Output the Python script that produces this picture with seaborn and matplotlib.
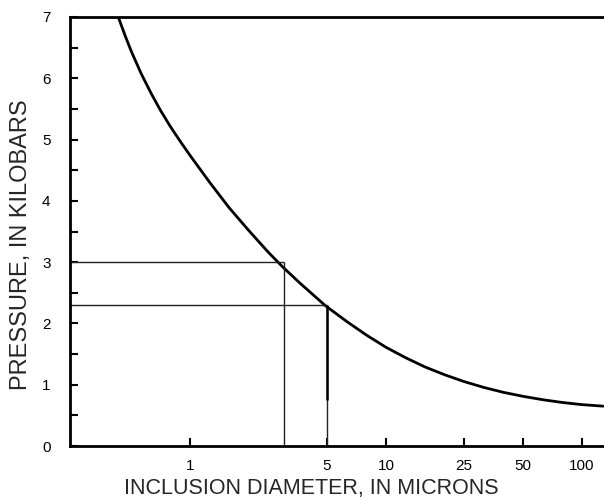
import matplotlib
matplotlib.use("Agg")
import matplotlib.pyplot as plt
import seaborn as sns
import pandas as pd
from matplotlib.ticker import FixedLocator, NullFormatter

# Curve
diameter = [0.43, 0.468, 0.501, 0.562, 0.631, 0.708, 0.794, 0.891, 1.0, 1.26,
            1.58, 2.0, 2.51, 2.95, 3.63, 4.9, 6.31, 7.94, 10.0, 12.6,
            15.8, 20.0, 25.1, 31.6, 39.8, 50.1, 63.1, 79.4, 100, 128]
pressure = [7.0, 6.68, 6.44, 6.08, 5.76, 5.47, 5.21, 4.97, 4.74, 4.30,
            3.89, 3.51, 3.16, 2.93, 2.66, 2.29, 2.03, 1.81, 1.61, 1.44,
            1.29, 1.16, 1.05, 0.955, 0.875, 0.81, 0.755, 0.71, 0.675, 0.65]

# Guide lines (reading examples)
guide_x = [3.0, 5.0]
guide_y = [3.0, 2.3]

x_ticks = [1, 5, 10, 25, 50, 100]
x_ticklabels = ["1", "5", "10", "25", "50", "100"]
y_ticks = [0, 1, 2, 3, 4, 5, 6, 7]
y_minor = [0.5, 1.5, 2.5, 3.5, 4.5, 5.5, 6.5]

sns.set_theme(style="ticks")
plt.rcParams['font.family'] = ['Liberation Sans', 'DejaVu Sans']

fig = plt.figure(figsize=(6.04, 5.0), dpi=100)
ax = fig.add_axes([0.116, 0.108, 0.884, 0.858])

df = pd.DataFrame({"d": diameter, "p": pressure})
sns.lineplot(data=df, x="d", y="p", ax=ax, color="black", linewidth=2.0)

ax.set_xscale("log")
ax.set_xlim(0.244, 129.5)
ax.set_ylim(0, 7)

# guide lines
for gx, gy in zip(guide_x, guide_y):
    ax.hlines(gy, 0.244, gx, color="#222222", linewidth=1.0)
    ax.vlines(gx, 0, gy, color="#222222", linewidth=1.0)
# the upper part of the 5-micron drop line is drawn heavier in the original
ax.vlines(guide_x[1], 0.75, guide_y[1], color="black", linewidth=1.8)

ax.xaxis.set_major_locator(FixedLocator(x_ticks))
ax.set_xticklabels(x_ticklabels)
ax.xaxis.set_minor_locator(FixedLocator([]))
ax.xaxis.set_minor_formatter(NullFormatter())
ax.set_yticks(y_ticks)
ax.yaxis.set_minor_locator(FixedLocator(y_minor))

ax.tick_params(axis="both", which="both", direction="in", length=6, width=1.5,
               labelsize=11, colors="black")
ax.tick_params(axis="y", pad=14)
ax.tick_params(axis="x", pad=9)

for side in ["left", "bottom", "top"]:
    ax.spines[side].set_linewidth(2.0)
    ax.spines[side].set_color("black")
ax.spines["right"].set_visible(False)

ax.set_xlabel("INCLUSION DIAMETER, IN MICRONS", fontsize=15.5)
ax.set_ylabel("PRESSURE, IN KILOBARS", fontsize=17)
ax.xaxis.set_label_coords(0.452, -0.074)
ax.yaxis.set_label_coords(-0.072, 0.469)

fig.savefig("out.png", dpi=100)
